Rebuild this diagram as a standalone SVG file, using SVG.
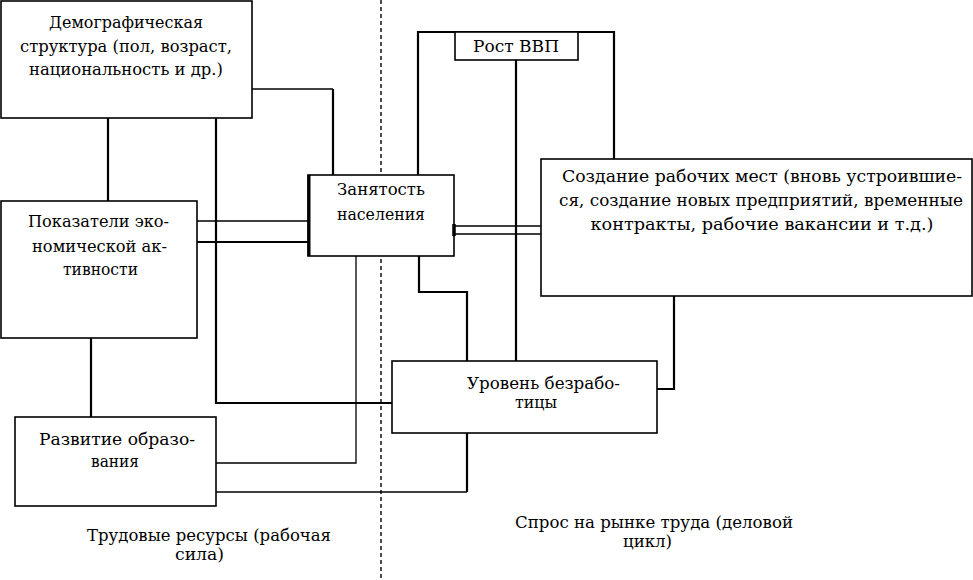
<svg xmlns="http://www.w3.org/2000/svg" width="973" height="580" viewBox="0 0 973 580">
<style>
.box{fill:#fff;stroke:#000;stroke-width:1.6}
.c{fill:none;stroke:#000;stroke-width:2.2}
.t{fill:none;stroke:#000;stroke-width:1.3}
text{font-family:"DejaVu Serif","Liberation Serif",serif;font-size:17px;fill:#000;text-anchor:middle}
.s{font-size:16px}
</style>
<rect width="973" height="580" fill="#fff"/>
<line x1="381" y1="0" x2="381" y2="580" stroke="#000" stroke-width="1.4" stroke-dasharray="4 3"/>
<g id="connectors">
<path class="t" d="M252,89 H333"/>
<path class="c" d="M333,89 V175"/>
<path class="c" d="M108,118 V201"/>
<path class="c" d="M216,118 V403 H392"/>
<path class="t" d="M197,221 H308"/>
<path class="c" d="M197,242 H308"/>
<path class="c" d="M91,338 V417"/>
<path class="c" d="M418,175 V32 H614 V159"/>
<path class="c" d="M516,60 V361"/>
<path class="t" d="M454,226 H541 M454,234 H541"/>
<path class="t" d="M356,256 V463 H216"/>
<path class="c" d="M419,256 V292 H467 V361"/>
<path class="c" d="M674,296 V389 H657"/>
<path class="c" d="M467,433 V492"/>
<path class="t" d="M467,492 H216"/>
</g>
<g id="demo">
<rect class="box" x="1" y="1" width="251" height="117"/>
<text x="126" y="28" textLength="154" lengthAdjust="spacingAndGlyphs">Демографическая</text>
<text x="126" y="52" textLength="212" lengthAdjust="spacingAndGlyphs">структура (пол, возраст,</text>
<text x="126" y="75" textLength="194" lengthAdjust="spacingAndGlyphs">национальность и др.)</text>
</g>
<g id="activity">
<rect class="box" x="1" y="201" width="196" height="137"/>
<text x="98.5" y="227" textLength="141" lengthAdjust="spacingAndGlyphs">Показатели эко-</text>
<text x="99.5" y="252" textLength="135" lengthAdjust="spacingAndGlyphs">номической ак-</text>
<text x="100.5" y="275" textLength="75" lengthAdjust="spacingAndGlyphs">тивности</text>
</g>
<g id="employment">
<rect class="box" x="308" y="175" width="146" height="81"/>
<line x1="309" y1="175" x2="309" y2="256" stroke="#000" stroke-width="3"/>
<line x1="454" y1="224" x2="454" y2="236" stroke="#000" stroke-width="3.5"/>
<text x="381" y="195" textLength="88" lengthAdjust="spacingAndGlyphs">Занятость</text>
<text x="381" y="220" textLength="88" lengthAdjust="spacingAndGlyphs">населения</text>
</g>
<g id="gdp">
<rect class="box" x="455" y="32" width="123" height="28"/>
<text x="516" y="52" textLength="86" lengthAdjust="spacingAndGlyphs">Рост ВВП</text>
</g>
<g id="jobs">
<rect class="box" x="541" y="159" width="431" height="137"/>
<text x="762" y="182" textLength="400" lengthAdjust="spacingAndGlyphs">Создание рабочих мест (вновь устроившие-</text>
<text x="761" y="206" textLength="404" lengthAdjust="spacingAndGlyphs">ся, создание новых предприятий, временные</text>
<text x="762" y="230" textLength="343" lengthAdjust="spacingAndGlyphs">контракты, рабочие вакансии и т.д.)</text>
</g>
<g id="unemployment">
<rect class="box" x="392" y="361" width="265" height="72"/>
<text class="s" x="543.5" y="389" textLength="153" lengthAdjust="spacingAndGlyphs">Уровень безрабо-</text>
<text class="s" x="536" y="408" textLength="42" lengthAdjust="spacingAndGlyphs">тицы</text>
</g>
<g id="education">
<rect class="box" x="15" y="417" width="201" height="89"/>
<text x="117" y="445" textLength="156" lengthAdjust="spacingAndGlyphs">Развитие  образо-</text>
<text x="115" y="467" textLength="48" lengthAdjust="spacingAndGlyphs">вания</text>
</g>
<g id="labels">
<text class="s" x="209" y="541" textLength="244" lengthAdjust="spacingAndGlyphs">Трудовые ресурсы (рабочая</text>
<text class="s" x="199.5" y="560" textLength="49" lengthAdjust="spacingAndGlyphs">сила)</text>
<text class="s" x="654" y="528" textLength="278" lengthAdjust="spacingAndGlyphs">Спрос на рынке труда (деловой</text>
<text class="s" x="647.5" y="547" textLength="49" lengthAdjust="spacingAndGlyphs">цикл)</text>
</g>
</svg>
